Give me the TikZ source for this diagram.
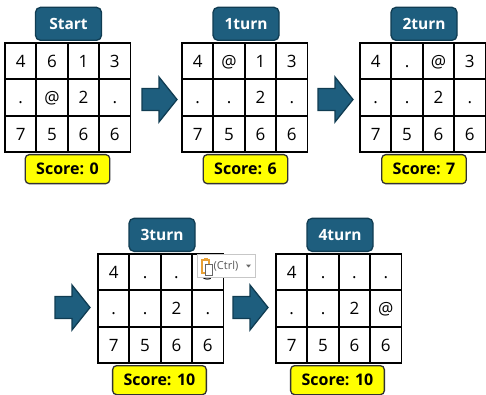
\documentclass[tikz,border=0pt]{standalone}
\usepackage{fontspec}
\setmainfont{Open Sans}
\definecolor{boardblue}{RGB}{30,94,126}
\definecolor{boardedge}{RGB}{16,60,82}
\definecolor{scoreyellow}{RGB}{255,255,0}
\definecolor{cliporange}{RGB}{232,160,52}

\tikzset{
  cell/.style={draw=black, line width=1.8pt, minimum width=31.375pt, minimum height=36.33pt,
    inner sep=0pt, text height=12.5pt, text depth=0pt, font=\fontsize{17}{20}\selectfont},
  title/.style={draw=boardedge, line width=1.3pt, fill=boardblue, rounded corners=5pt,
    minimum width=66pt, minimum height=33pt, inner sep=0pt, anchor=south,
    text=white, font=\bfseries\fontsize{15.5}{18}\selectfont},
  score/.style={draw=black!80, line width=1.3pt, fill=scoreyellow, rounded corners=4pt,
    minimum height=29pt, inner xsep=11pt, inner ysep=0pt, anchor=north,
    font=\bfseries\fontsize{16}{19}\selectfont},
  turnarrow/.style={draw=boardedge, line width=1.3pt, fill=boardblue, line join=miter},
}

% one 4x3 board: name, left x, top y, rows
\newcommand\drawboard[4]{%
  \begin{scope}[shift={(#2,#3)}]
    \foreach \row [count=\r from 0] in {#4} {
      \foreach \val [count=\c from 0] in \row {
        \node[cell] (#1-\r-\c) at (\c*31.375+15.69, \r*36.33+18.17) {\val};
      }
    }
  \end{scope}}

% block arrow: left x, middle y
\newcommand\turnarrow[2]{%
  \draw[turnarrow, shift={(#1,#2)}] (0,-11) -- (17,-11) -- (17,-22.5) -- (35,0)
    -- (17,22.5) -- (17,11) -- (0,11) -- cycle;}

\begin{document}
\begin{tikzpicture}[x=1pt,y=-1pt]
\useasboundingbox (0,0) rectangle (486,395);

% top row of boards
\drawboard{s}{5}{43}{{4,6,1,3},{.,@,2,.},{7,5,6,6}}
\drawboard{a}{182}{43}{{4,@,1,3},{.,.,2,.},{7,5,6,6}}
\drawboard{b}{360}{43}{{4,.,@,3},{.,.,2,.},{7,5,6,6}}
% bottom row of boards
\drawboard{c}{98}{254}{{4,.,.,@},{.,.,2,.},{7,5,6,6}}
\drawboard{d}{276}{254}{{4,.,.,.},{.,.,2,@},{7,5,6,6}}

% titles
\node[title] (ts) at (68.5,41) {Start};
\node[title] (ta) at (246,41) {1turn};
\node[title] (tb) at (424,41) {2turn};
\node[title] (tc) at (162,252) {3turn};
\node[title] (td) at (340,252) {4turn};

% scores
\node[score] (ss) at (67.5,154) {Score: 0};
\node[score] (sa) at (245.5,154) {Score: 6};
\node[score] (sb) at (424,154) {Score: 7};
\node[score] (sc) at (159.5,365) {Score: 10};
\node[score] (sd) at (337.5,365) {Score: 10};

% arrows between turns
\turnarrow{142}{99.5}
\turnarrow{318}{99.5}
\turnarrow{55}{307.5}
\turnarrow{233}{307.5}

% paste options tag
\node[draw=black!22, fill=white, line width=0.8pt, minimum width=58pt, minimum height=23pt,
  anchor=north west, inner sep=0pt] (paste) at (197,254) {};
\fill[cliporange] (201,259) rectangle (210,274);
\fill[white] (203,261) rectangle (208,272);
\fill[cliporange] (203.5,257.5) rectangle (207.5,260.5);
\draw[black!60, fill=white, line width=0.8pt] (205.5,264) rectangle (212.5,275);
\node[anchor=west, inner sep=0pt, text=black!65, font=\fontsize{11}{13}\selectfont]
  (ctrl) at (213.5,266) {(Ctrl)};
\fill[black!60] (246,264.5) -- (251,264.5) -- (248.5,267.5) -- cycle;
\end{tikzpicture}
\end{document}
